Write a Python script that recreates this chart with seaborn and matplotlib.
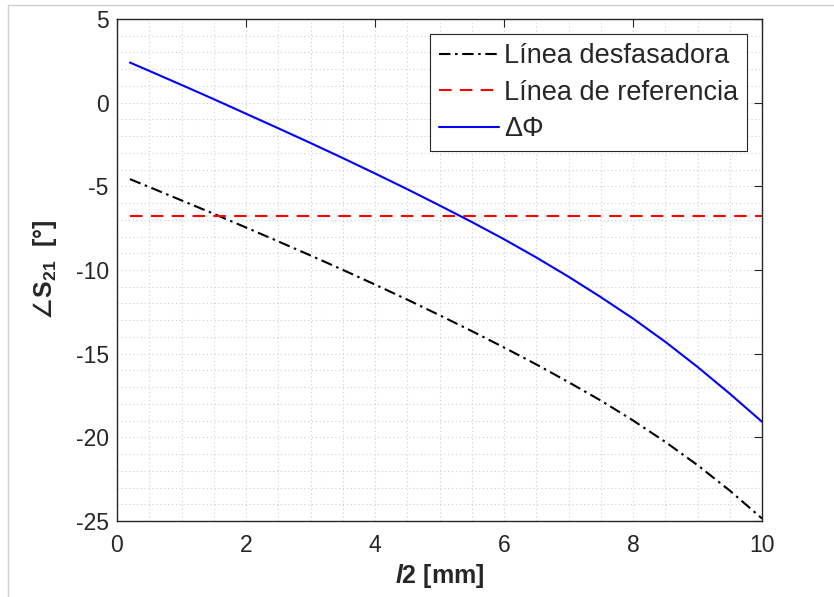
import numpy as np
import pandas as pd
import matplotlib
matplotlib.use("Agg")
import matplotlib.pyplot as plt
from matplotlib.lines import Line2D
from matplotlib.ticker import MultipleLocator
import seaborn as sns

# Line length l2 [mm] and phase of S21 [deg]
l2_mm = [0.2, 0.5, 1, 1.5, 2, 2.5, 3, 3.5, 4, 4.5, 5,
         5.5, 6, 6.5, 7, 7.5, 8, 8.5, 9, 9.5, 10]
phase_shifter = [-4.57, -5.04, -5.84, -6.64, -7.46, -8.29, -9.13, -9.99, -10.87, -11.77, -12.70,
                 -13.65, -14.63, -15.64, -16.70, -17.80, -18.99, -20.27, -21.66, -23.18, -24.85]
delta_phi = [2.40, 1.90, 1.06, 0.21, -0.66, -1.53, -2.41, -3.31, -4.23, -5.17, -6.14,
             -7.13, -8.16, -9.25, -10.40, -11.62, -12.90, -14.29, -15.79, -17.39, -19.07]
reference_phase = -6.8

labels = ["Línea desfasadora", "Línea de referencia", "ΔΦ"]

sns.set_theme(style="white")
plt.rcParams["font.family"] = ["Liberation Sans", "DejaVu Sans"]
plt.rcParams["axes.unicode_minus"] = False
plt.rcParams["mathtext.fontset"] = "custom"
plt.rcParams["mathtext.rm"] = "Liberation Sans:bold"
plt.rcParams["mathtext.bf"] = "Liberation Sans:bold"
plt.rcParams["mathtext.it"] = "Liberation Sans:bold:italic"
plt.rcParams["mathtext.sf"] = "DejaVu Sans"
plt.rcParams["mathtext.fallback"] = "stixsans"

n = len(l2_mm)
df = pd.DataFrame({
    "l2": l2_mm * 3,
    "fase": phase_shifter + [reference_phase] * n + delta_phi,
    "serie": [labels[0]] * n + [labels[1]] * n + [labels[2]] * n,
})

fig = plt.figure(figsize=(8.34, 5.97), dpi=100)
ax = fig.add_axes([117 / 834, 1 - 521 / 597, 645 / 834, 502 / 597])

palette = {labels[0]: "black", labels[1]: "#ff0000", labels[2]: "#0000ff"}
styles = {labels[0]: (0, (5.5, 2.2, 1.2, 2.2)), labels[1]: (0, (6, 4)), labels[2]: "-"}

for name in labels:
    sub = df[df["serie"] == name]
    sns.lineplot(data=sub, x="l2", y="fase", ax=ax, color=palette[name],
                 linestyle=styles[name], linewidth=1.5, label=name)

ax.set_xlim(0, 10)
ax.set_ylim(-25, 5)
ax.xaxis.set_major_locator(MultipleLocator(2))
ax.xaxis.set_minor_locator(MultipleLocator(0.5))
ax.yaxis.set_major_locator(MultipleLocator(5))
ax.yaxis.set_minor_locator(MultipleLocator(1))

ax.grid(True, which="both", color="#cfcfcf", linestyle=(0, (1, 2.5)), linewidth=0.8)
ax.set_axisbelow(True)

ax.tick_params(which="major", direction="in", length=6, width=0.8, color="#262626",
               top=True, right=True, labelsize=16.5, labelcolor="#262626")
ax.tick_params(axis="x", which="major", pad=9)
ax.tick_params(axis="y", which="major", pad=6)
ax.tick_params(which="minor", length=0, top=True, right=True)
for s in ax.spines.values():
    s.set_visible(True)
    s.set_color("#262626")
    s.set_linewidth(1.0)

ax.set_xlabel(r"$\mathit{l2}$ [mm]", fontsize=18, fontweight="bold", color="#262626", labelpad=4)
ax.set_ylabel(r"$\mathsf{\angle}\mathrm{S}_{\mathrm{21}}$  [°]", fontsize=18, fontweight="bold",
              color="#262626", labelpad=12)

leg = ax.legend(loc="upper right", bbox_to_anchor=(0.977, 0.9695), borderaxespad=0,
                fontsize=19.5, handlelength=2.2, handletextpad=0.2, labelspacing=0.39,
                borderpad=0.33, fancybox=False, framealpha=1, edgecolor="#262626")
leg.get_frame().set_linewidth(0.8)

# thin frame line on the top and left edges of the figure
fig.add_artist(Line2D([8 / 834, 1], [1 - 5 / 597, 1 - 5 / 597], color="#d0d0d0", lw=1,
                      transform=fig.transFigure))
fig.add_artist(Line2D([8 / 834, 8 / 834], [0, 1 - 5 / 597], color="#d0d0d0", lw=1,
                      transform=fig.transFigure))

fig.savefig("out.png", dpi=100)
